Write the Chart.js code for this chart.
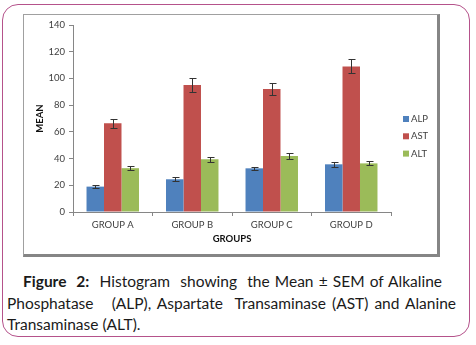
<!DOCTYPE html>
<html>
<head>
<meta charset="utf-8">
<script src="https://cdn.jsdelivr.net/npm/chart.js@4/dist/chart.umd.min.js"></script>
<style>
  body { margin: 0; background: #fff; width: 476px; height: 345px; position: relative; overflow: hidden; }
  .outer { position: absolute; left: 2px; top: 4px; width: 466px; height: 331px; border: 1.5px solid #b5528b; border-radius: 16px; }
  .frame { position: absolute; left: 23px; top: 14px; width: 413px; height: 239px; border: 1px solid #a0a0a0; border-right: 3px solid #858585; border-bottom: 3px solid #858585; }
  .frame canvas { position: absolute; left: 0; top: 0; }
  .caption { position: absolute; left: 7px; width: 449px; font-family: Lato, "Open Sans", sans-serif; font-size: 15.5px; color: #1a1a1a; line-height: 21.5px; }
  .caption div { text-align: justify; text-align-last: justify; white-space: nowrap; }
  .caption div.last { text-align-last: left; }
</style>
</head>
<body>
<div class="outer"></div>
<div class="frame"><canvas id="chart" width="413" height="239"></canvas></div>
<div class="caption" style="top:271px">
  <div style="margin-left:16px;width:419px;white-space:normal"><b>Figure&nbsp; 2:</b>&nbsp; Histogram&nbsp; showing&nbsp; the Mean ± SEM of Alkaline</div>
  <div style="white-space:normal">Phosphatase &nbsp; (ALP), Aspartate&nbsp; Transaminase (AST) and Alanine</div>
  <div class="last">Transaminase (ALT).</div>
</div>
<script>
const groups = ['GROUP A', 'GROUP B', 'GROUP C', 'GROUP D'];
const alp = [19, 24.5, 32.7, 35.7];
const alpErr = [1, 1.6, 1.3, 1.9];
const ast = [66.5, 95, 92, 109];
const astErr = [3.3, 5, 4.6, 5.2];
const alt = [32.8, 39.4, 41.9, 36.4];
const altErr = [1.4, 2, 1.9, 1.5];
const yTicks = [0, 20, 40, 60, 80, 100, 120, 140];

const errorBars = {
    id: 'errorBars',
    afterDatasetsDraw(chart) {
        const ctx = chart.ctx;
        const y = chart.scales.y;
        ctx.save();
        ctx.strokeStyle = '#333';
        ctx.lineWidth = 1;
        chart.data.datasets.forEach((ds, i) => {
            const meta = chart.getDatasetMeta(i);
            meta.data.forEach((bar, j) => {
                const x = Math.round(bar.x) + 0.5;
                const top = Math.round(y.getPixelForValue(ds.data[j] + ds.err[j])) + 0.5;
                const bot = Math.round(y.getPixelForValue(ds.data[j] - ds.err[j])) + 0.5;
                ctx.beginPath();
                ctx.moveTo(x, top); ctx.lineTo(x, bot);
                ctx.moveTo(x - 3, top); ctx.lineTo(x + 4, top);
                ctx.moveTo(x - 3, bot); ctx.lineTo(x + 4, bot);
                ctx.stroke();
            });
        });
        ctx.restore();
    }
};

// legend drawn at the right, like the original
const sideLegend = {
    id: 'sideLegend',
    afterDraw(chart) {
        const ctx = chart.ctx;
        ctx.save();
        ctx.font = '9.5px Lato, "Open Sans", sans-serif';
        ctx.textBaseline = 'middle';
        chart.data.datasets.forEach((ds, i) => {
            const cy = 104 + i * 17.3;
            ctx.fillStyle = ds.backgroundColor;
            ctx.fillRect(379, cy - 3, 6, 6);
            ctx.fillStyle = '#404040';
            ctx.fillText(ds.label, 387, cy);
        });
        ctx.restore();
    }
};

const font = { family: 'Lato, "Open Sans", sans-serif', size: 9.5 };

new Chart(document.getElementById('chart'), {
    type: 'bar',
    data: {
        labels: groups,
        datasets: [
            { label: 'ALP', data: alp, err: alpErr, backgroundColor: '#4f81bd' },
            { label: 'AST', data: ast, err: astErr, backgroundColor: '#c0504d' },
            { label: 'ALT', data: alt, err: altErr, backgroundColor: '#9bbb59' }
        ]
    },
    options: {
        responsive: false,
        animation: false,
        layout: { padding: { top: 10, right: 46, left: 0, bottom: 0 } },
        categoryPercentage: 0.66,
        barPercentage: 1,
        plugins: { legend: { display: false }, tooltip: { enabled: false } },
        scales: {
            x: {
                grid: { offset: true, drawOnChartArea: false, tickLength: 4, color: '#868686' },
                border: { color: '#868686' },
                ticks: { color: '#404040', font, padding: 3 },
                title: { display: true, text: 'GROUPS', color: '#111', font: { ...font, weight: 'bold' }, padding: { top: 0, bottom: 9 } },
                afterFit: s => { s.height = 42; }
            },
            y: {
                min: 0, max: 140,
                afterBuildTicks: s => { s.ticks = yTicks.map(v => ({ value: v })); },
                grid: { drawOnChartArea: false, tickLength: 4, color: '#868686' },
                border: { color: '#868686' },
                ticks: { color: '#404040', font, padding: 4 },
                title: { display: true, text: 'MEAN', color: '#111', font: { ...font, weight: 'bold' }, padding: { top: 10, bottom: 0 } },
                afterFit: s => { s.width = 49; }
            }
        }
    },
    plugins: [errorBars, sideLegend]
});
</script>
</body>
</html>
